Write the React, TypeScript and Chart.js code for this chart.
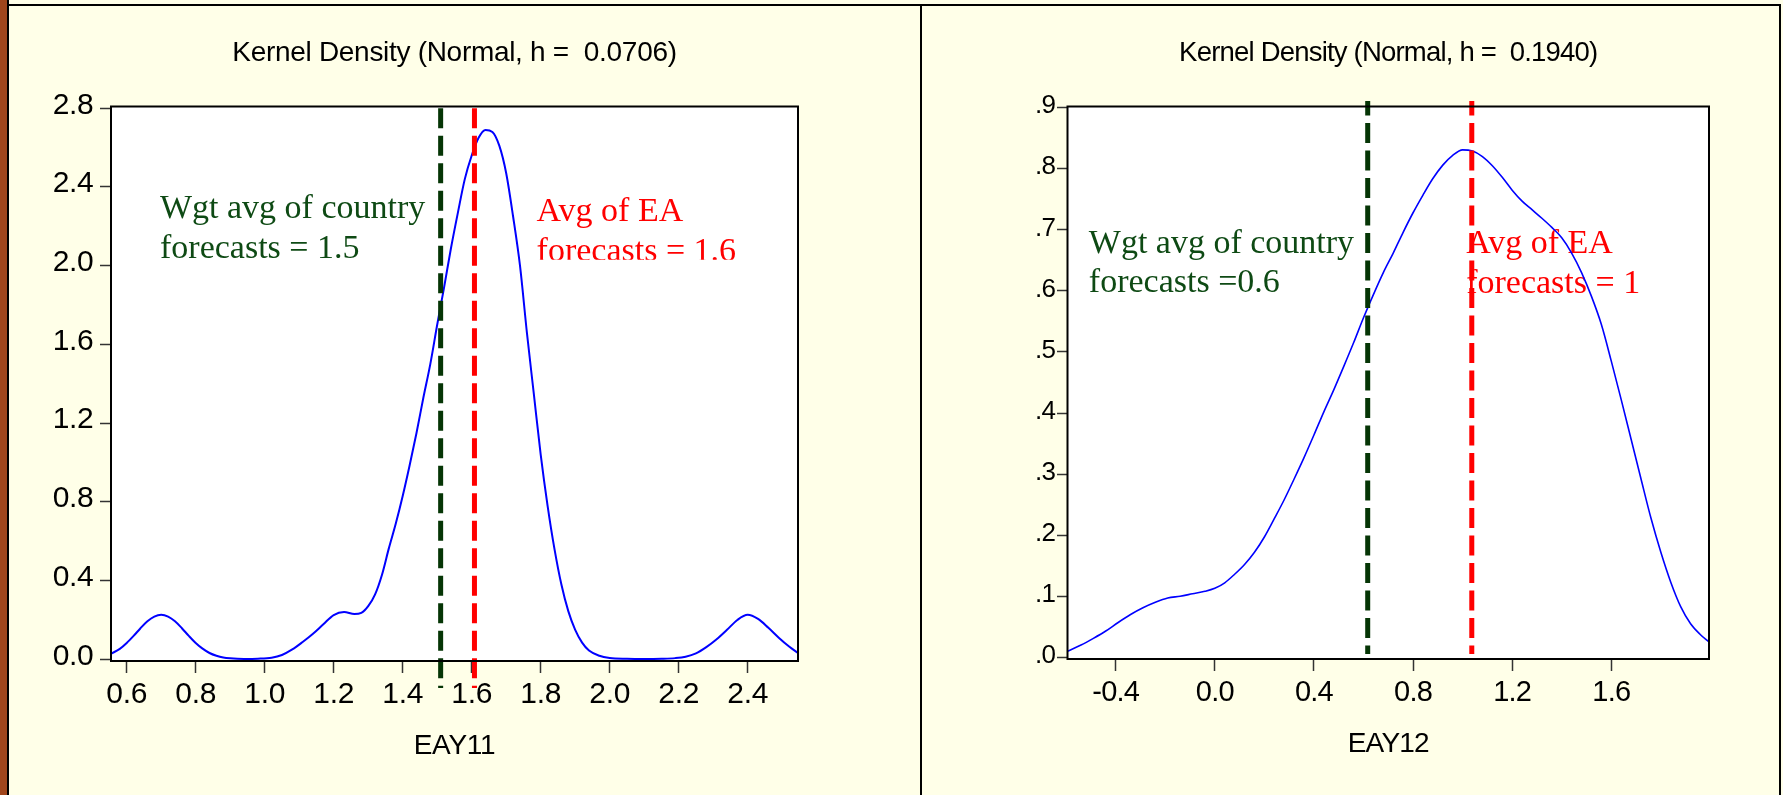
import React, { useEffect, useRef } from "react";
import { Chart, registerables } from "chart.js";

Chart.register(...registerables);

// ---------------- Panel 1 : EAY11 ----------------
const eay11Title = "Kernel Density (Normal, h =  0.0706)";
const eay11AxisTitle = "EAY11";
const eay11X = [
  0.5545, 0.58, 0.6, 0.62, 0.64, 0.66, 0.68, 0.7, 0.72, 0.74,
  0.76, 0.78, 0.8, 0.82, 0.84, 0.86, 0.88, 0.9, 0.94, 0.98,
  1.02, 1.05, 1.08, 1.11, 1.14, 1.17, 1.2, 1.23, 1.26, 1.28,
  1.3, 1.32, 1.34, 1.36, 1.38, 1.4, 1.42, 1.44, 1.46, 1.48,
  1.5, 1.52, 1.54, 1.56, 1.58, 1.6, 1.62, 1.64, 1.66, 1.68,
  1.7, 1.72, 1.74, 1.76, 1.78, 1.8, 1.82, 1.84, 1.86, 1.88,
  1.9, 1.92, 1.94, 1.97, 2.0, 2.05, 2.1, 2.15, 2.19, 2.22,
  2.25, 2.28, 2.31, 2.34, 2.37, 2.4, 2.43, 2.46, 2.49, 2.52,
  2.5458,
];
const eay11Density = [
  0.028, 0.053, 0.083, 0.119, 0.158, 0.193, 0.217, 0.226, 0.217, 0.193,
  0.158, 0.119, 0.083, 0.054, 0.032, 0.018, 0.009, 0.005, 0.002, 0.003,
  0.008, 0.022, 0.05, 0.088, 0.13, 0.178, 0.225, 0.24, 0.23, 0.236,
  0.27, 0.33, 0.43, 0.565, 0.69, 0.83, 0.985, 1.15, 1.33, 1.5,
  1.7, 1.89, 2.09, 2.27, 2.44, 2.56, 2.65, 2.69, 2.68, 2.61,
  2.47, 2.25, 2.0, 1.66, 1.35, 1.04, 0.78, 0.56, 0.38, 0.245,
  0.15, 0.085, 0.045, 0.018, 0.007, 0.003, 0.002, 0.003, 0.006, 0.013,
  0.03, 0.062, 0.102, 0.15, 0.2, 0.226, 0.205, 0.16, 0.11, 0.065,
  0.032,
];
const eay11XRange = [0.5545, 2.5458];
const eay11YRange = [-0.0086, 2.809];
const eay11XTicks = [0.6, 0.8, 1.0, 1.2, 1.4, 1.6, 1.8, 2.0, 2.2, 2.4];
const eay11XTickLabels = ["0.6", "0.8", "1.0", "1.2", "1.4", "1.6", "1.8", "2.0", "2.2", "2.4"];
const eay11YTicks = [0, 0.4, 0.8, 1.2, 1.6, 2.0, 2.4, 2.8];
const eay11YTickLabels = ["0.0", "0.4", "0.8", "1.2", "1.6", "2.0", "2.4", "2.8"];
const eay11CountryAvg = 1.51;
const eay11EaAvg = 1.608;
const eay11MarkerSpan = [2.8, -0.146];
const eay11CountryNote = ["Wgt avg of country", "forecasts = 1.5"];
const eay11CountryNoteAt = [0.6965, 2.242];
const eay11EaNote = ["Avg of EA", "forecasts = 1.6"];
const eay11EaNoteAt = [1.788, 2.225];
const eay11EaNoteClip = 2.03;

// ---------------- Panel 2 : EAY12 ----------------
const eay12Title = "Kernel Density (Normal, h =  0.1940)";
const eay12AxisTitle = "EAY12";
const eay12X = [
  -0.5945, -0.54, -0.49, -0.44, -0.39, -0.34, -0.29, -0.24, -0.19, -0.14,
  -0.09, -0.04, 0.0, 0.04, 0.08, 0.12, 0.16, 0.2, 0.24, 0.28,
  0.32, 0.36, 0.4, 0.44, 0.48, 0.52, 0.56, 0.6, 0.64, 0.68,
  0.72, 0.76, 0.8, 0.84, 0.88, 0.92, 0.96, 1.0, 1.04, 1.08,
  1.12, 1.16, 1.2, 1.24, 1.28, 1.32, 1.36, 1.4, 1.44, 1.48,
  1.52, 1.56, 1.6, 1.64, 1.68, 1.72, 1.76, 1.8, 1.84, 1.88,
  1.92, 1.96, 1.9943,
];
const eay12Density = [
  0.01, 0.02, 0.031, 0.043, 0.057, 0.07, 0.081, 0.09, 0.097, 0.1,
  0.104, 0.108, 0.113, 0.122, 0.136, 0.152, 0.172, 0.197, 0.227, 0.258,
  0.292, 0.327, 0.364, 0.402, 0.438, 0.476, 0.515, 0.556, 0.594, 0.63,
  0.662, 0.696, 0.728, 0.757, 0.784, 0.806, 0.822, 0.831, 0.829, 0.82,
  0.805, 0.786, 0.765, 0.747, 0.733, 0.719, 0.704, 0.687, 0.662, 0.63,
  0.591, 0.545, 0.485, 0.422, 0.357, 0.292, 0.228, 0.172, 0.123, 0.083,
  0.055, 0.037, 0.025,
];
const eay12XRange = [-0.5945, 1.9943];
const eay12YRange = [-0.0028, 0.902];
const eay12XTicks = [-0.4, 0.0, 0.4, 0.8, 1.2, 1.6];
const eay12XTickLabels = ["-0.4", "0.0", "0.4", "0.8", "1.2", "1.6"];
const eay12YTicks = [0, 0.1, 0.2, 0.3, 0.4, 0.5, 0.6, 0.7, 0.8, 0.9];
const eay12YTickLabels = [".0", ".1", ".2", ".3", ".4", ".5", ".6", ".7", ".8", ".9"];
const eay12CountryAvg = 0.617;
const eay12EaAvg = 1.037;
const eay12MarkerSpan = [0.911, 0.0054];
const eay12CountryNote = ["Wgt avg of country", "forecasts =0.6"];
const eay12CountryNoteAt = [-0.5085, 0.6625];
const eay12EaNote = ["Avg of EA", "forecasts = 1"];
const eay12EaNoteAt = [1.0145, 0.6615];

// ---------------- styles ----------------
const CREAM = "#FFFFE8";
const BROWN = "#A0461C";
const BLUE = "#0000FF";
const RED = "#FF0000";
const GREEN_LINE = "#053505";
const GREEN_TEXT = "#0E4A14";
const SANS = '"Liberation Sans", Arial, Helvetica, sans-serif';
const SERIF = '"Liberation Serif", "Times New Roman", serif';

const decorPlugin = {
  id: "kdDecor",
  beforeDraw(chart: any, _args: any, opts: any) {
    const { ctx, chartArea: a } = chart;
    ctx.save();
    ctx.fillStyle = "#FFFFFF";
    ctx.fillRect(a.left, a.top, a.right - a.left, a.bottom - a.top);
    ctx.restore();
    (ctx as any).letterSpacing = opts.letterSpacing || "0px";
  },
  beforeDatasetsDraw(chart: any, _args: any, opts: any) {
    const { ctx, scales } = chart;
    (ctx as any).letterSpacing = "0px";
    for (const n of opts.notes || []) {
      ctx.save();
      if (n.clipY !== undefined) {
        const cy = scales.y.getPixelForValue(n.clipY);
        ctx.beginPath();
        ctx.rect(0, 0, chart.width, cy);
        ctx.clip();
      }
      ctx.font = `${opts.noteSize}px ${SERIF}`;
      ctx.fillStyle = n.color;
      ctx.textAlign = "left";
      ctx.textBaseline = "alphabetic";
      const x = scales.x.getPixelForValue(n.at[0]);
      const y = scales.y.getPixelForValue(n.at[1]);
      n.lines.forEach((t: string, i: number) => ctx.fillText(t, x, y + i * opts.noteLeading));
      ctx.restore();
    }
  },
  afterDatasetsDraw(chart: any) {
    const { ctx, chartArea: a } = chart;
    ctx.save();
    ctx.strokeStyle = "#000";
    ctx.lineWidth = 2;
    ctx.strokeRect(a.left, a.top, a.right - a.left, a.bottom - a.top);
    ctx.restore();
  },
};

function makeChart(canvas: HTMLCanvasElement, d: any, s: any) {
  return new Chart(canvas, {
    type: "line",
    data: {
      datasets: [
        {
          label: "Wgt avg of country forecasts",
          data: [
            { x: d.country, y: d.span[0] },
            { x: d.country, y: d.span[1] },
          ],
          borderColor: GREEN_LINE,
          borderWidth: 5,
          borderDash: [20, 7.5],
          borderDashOffset: s.dashOffset,
          pointRadius: 0,
          fill: false,
          clip: false,
          order: 0,
        },
        {
          label: "Avg of EA forecasts",
          data: [
            { x: d.ea, y: d.span[0] },
            { x: d.ea, y: d.span[1] },
          ],
          borderColor: RED,
          borderWidth: 5,
          borderDash: [20, 7.5],
          borderDashOffset: s.dashOffset,
          pointRadius: 0,
          fill: false,
          clip: false,
          order: 0,
        },
        {
          label: "Density",
          data: d.xs.map((x: number, i: number) => ({ x, y: d.ys[i] })),
          borderColor: BLUE,
          borderWidth: s.curveWidth,
          pointRadius: 0,
          fill: false,
          cubicInterpolationMode: "monotone",
          order: 1,
        },
      ],
    } as any,
    options: {
      animation: false,
      responsive: false,
      devicePixelRatio: 1,
      layout: { padding: s.pad },
      plugins: {
        legend: { display: false },
        tooltip: { enabled: false },
        title: {
          display: true,
          text: d.title,
          color: "#000",
          fullSize: false,
          font: { family: SANS, size: s.titleSize, weight: "normal" },
          padding: s.titlePad,
        },
        kdDecor: {
          letterSpacing: s.letterSpacing,
          noteSize: 34,
          noteLeading: 39.5,
          notes: d.notes,
        },
      } as any,
      scales: {
        x: {
          type: "linear",
          min: d.xRange[0],
          max: d.xRange[1],
          afterBuildTicks: (sc: any) => {
            sc.ticks = d.xTicks.map((v: number) => ({ value: v }));
          },
          afterFit: (sc: any) => {
            sc.height = s.xAxisHeight;
          },
          ticks: {
            autoSkip: false,
            maxRotation: 0,
            minRotation: 0,
            padding: s.xTickPad,
            color: "#000",
            font: { family: SANS, size: s.xTickSize },
            callback: (_v: any, i: number) => d.xTickLabels[i],
          },
          grid: {
            display: true,
            drawOnChartArea: false,
            drawTicks: true,
            tickLength: s.xTickLen,
            tickColor: "#333",
            tickWidth: 1.5,
          },
          border: { display: false },
          title: {
            display: true,
            text: d.axisTitle,
            color: "#000",
            font: { family: SANS, size: 28 },
            padding: { top: 0, bottom: 0 },
          },
        },
        y: {
          type: "linear",
          position: "left",
          min: d.yRange[0],
          max: d.yRange[1],
          afterBuildTicks: (sc: any) => {
            sc.ticks = d.yTicks.map((v: number) => ({ value: v }));
          },
          afterFit: (sc: any) => {
            sc.width = s.yAxisWidth;
          },
          ticks: {
            autoSkip: false,
            padding: s.yTickPad,
            labelOffset: s.yLabelOffset,
            color: "#000",
            font: { family: SANS, size: s.yTickSize },
            callback: (_v: any, i: number) => d.yTickLabels[i],
          },
          grid: {
            display: true,
            drawOnChartArea: false,
            drawTicks: true,
            tickLength: s.yTickLen,
            tickColor: "#333",
            tickWidth: 1.5,
          },
          border: { display: false },
        },
      } as any,
    },
    plugins: [decorPlugin as any],
  });
}

const panel1Data = {
  title: eay11Title,
  axisTitle: eay11AxisTitle,
  xs: eay11X,
  ys: eay11Density,
  xRange: eay11XRange,
  yRange: eay11YRange,
  xTicks: eay11XTicks,
  xTickLabels: eay11XTickLabels,
  yTicks: eay11YTicks,
  yTickLabels: eay11YTickLabels,
  country: eay11CountryAvg,
  ea: eay11EaAvg,
  span: eay11MarkerSpan,
  notes: [
    { lines: eay11CountryNote, at: eay11CountryNoteAt, color: GREEN_TEXT },
    { lines: eay11EaNote, at: eay11EaNoteAt, color: RED, clipY: eay11EaNoteClip },
  ],
};

const panel2Data = {
  title: eay12Title,
  axisTitle: eay12AxisTitle,
  xs: eay12X,
  ys: eay12Density,
  xRange: eay12XRange,
  yRange: eay12YRange,
  xTicks: eay12XTicks,
  xTickLabels: eay12XTickLabels,
  yTicks: eay12YTicks,
  yTickLabels: eay12YTickLabels,
  country: eay12CountryAvg,
  ea: eay12EaAvg,
  span: eay12MarkerSpan,
  notes: [
    { lines: eay12CountryNote, at: eay12CountryNoteAt, color: GREEN_TEXT },
    { lines: eay12EaNote, at: eay12EaNoteAt, color: RED },
  ],
};

const panel1Style = {
  pad: { left: 51, right: 122, top: 0, bottom: 32 },
  titleSize: 28,
  titlePad: { top: 36.2, bottom: 36.7 },
  letterSpacing: "-0.3px",
  yAxisWidth: 60,
  xAxisHeight: 102,
  yTickSize: 30,
  yTickPad: 6.5,
  yTickLen: 11,
  yLabelOffset: -3,
  xTickSize: 30,
  xTickPad: 3.7,
  xTickLen: 12,
  curveWidth: 2,
  dashOffset: 0,
};

const panel2Style = {
  pad: { left: 85.5, right: 71, top: 0, bottom: 34 },
  titleSize: 27.5,
  titlePad: { top: 36.6, bottom: 36.9 },
  letterSpacing: "-0.8px",
  yAxisWidth: 60,
  xAxisHeight: 102,
  yTickSize: 26,
  yTickPad: 1.8,
  yTickLen: 10.5,
  yLabelOffset: -1.5,
  xTickSize: 29,
  xTickPad: 4.3,
  xTickLen: 12,
  curveWidth: 1.6,
  dashOffset: 5.5,
};

export default function App() {
  const c1 = useRef<HTMLCanvasElement>(null);
  const c2 = useRef<HTMLCanvasElement>(null);

  useEffect(() => {
    const charts: Chart[] = [];
    if (c1.current) charts.push(makeChart(c1.current, panel1Data, panel1Style));
    if (c2.current) charts.push(makeChart(c2.current, panel2Data, panel2Style));
    return () => charts.forEach((c) => c.destroy());
  }, []);

  const abs = (l: number, t: number, w: number, h: number, bg: string): React.CSSProperties => ({
    position: "absolute",
    left: l,
    top: t,
    width: w,
    height: h,
    background: bg,
  });

  return (
    <div style={{ position: "absolute", left: 0, top: 0, width: 1783, height: 795, background: CREAM, overflow: "hidden" }}>
      <div style={abs(0, 0, 7, 795, BROWN)} />
      <div style={abs(7, 0, 2, 795, "#000")} />
      <div style={abs(7, 4, 1774, 2, "#000")} />
      <div style={abs(920, 4, 2, 791, "#000")} />
      <div style={abs(1779, 4, 2, 791, "#000")} />
      <canvas ref={c1} width={920} height={795} style={{ position: "absolute", left: 0, top: 0, width: 920, height: 795 }} />
      <canvas ref={c2} width={858} height={795} style={{ position: "absolute", left: 922, top: 0, width: 858, height: 795 }} />
    </div>
  );
}
